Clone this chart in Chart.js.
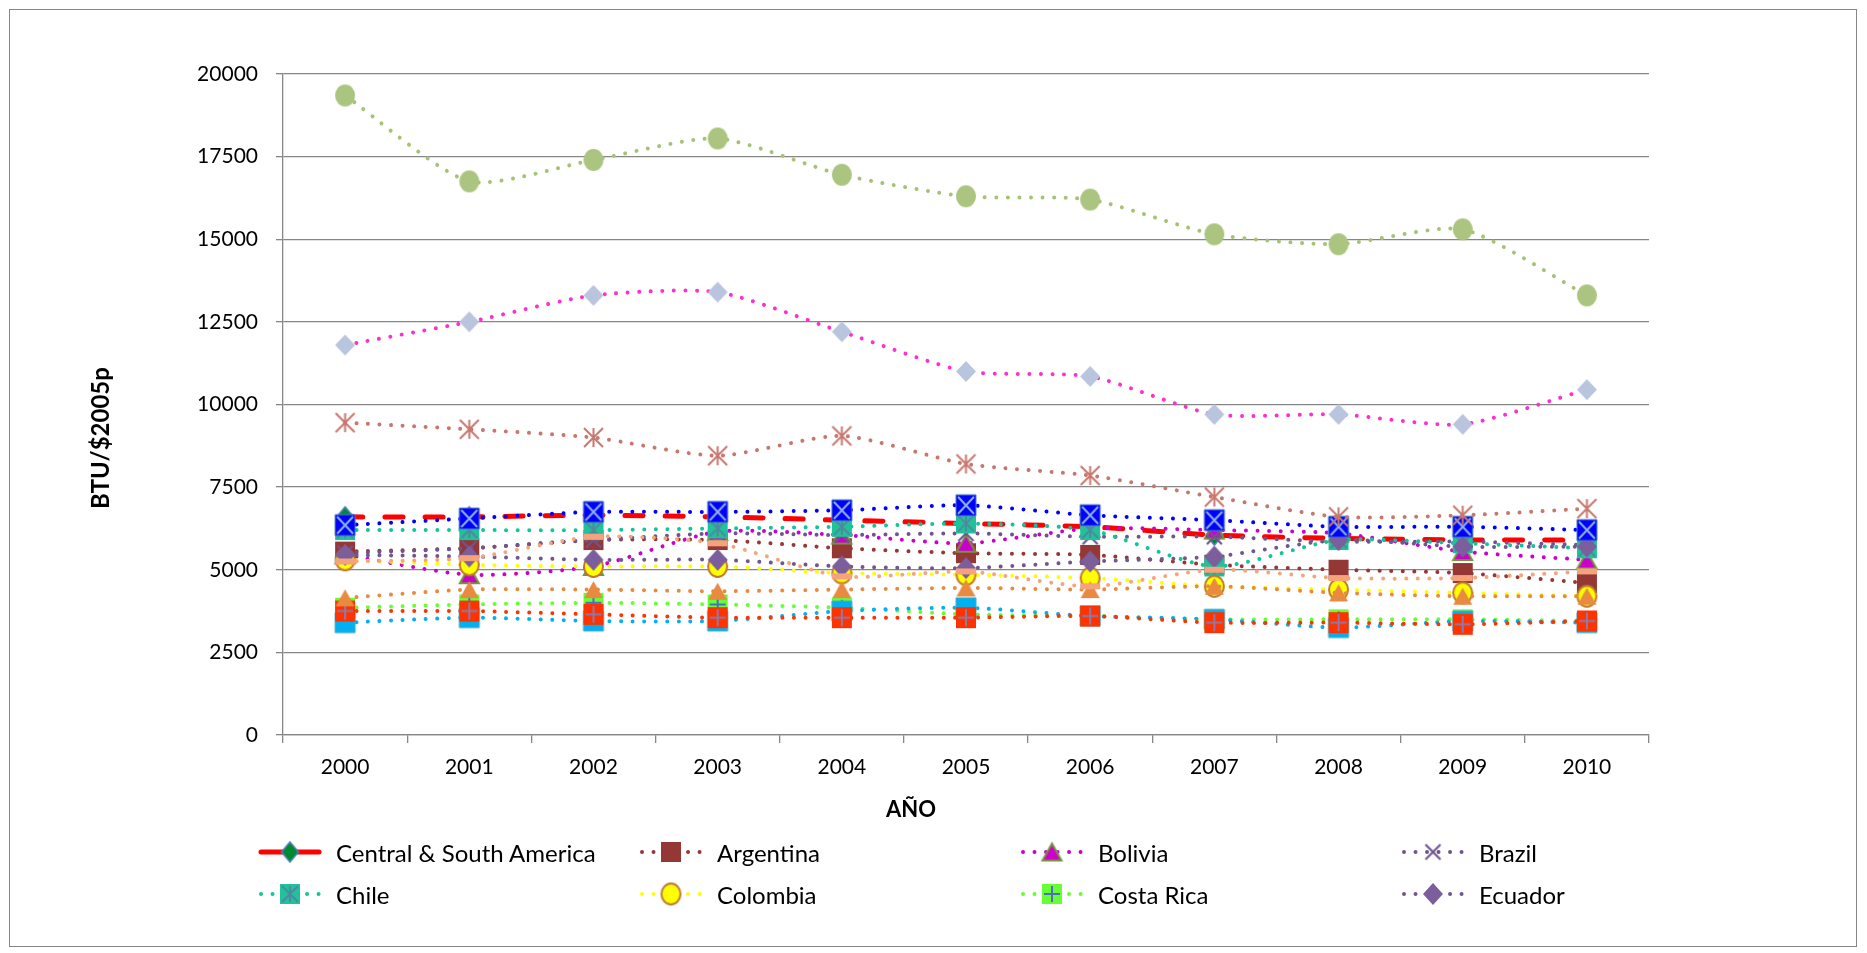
<!DOCTYPE html>
<html><head><meta charset="utf-8">
<script src="https://cdn.jsdelivr.net/npm/chart.js@4.4.1/dist/chart.umd.min.js"></script>
<style>
html,body{margin:0;padding:0;background:#fff;}
#wrap{position:relative;width:1867px;height:953px;overflow:hidden;font-family:Lato, sans-serif;background:#fff;}
#frame{position:absolute;left:9px;top:9px;width:1848px;height:938px;border:1px solid #868686;box-sizing:border-box;}
#c{position:absolute;left:0;top:0;}
.li{position:absolute;height:30px;display:flex;align-items:center;font-size:24px;color:#000;white-space:nowrap;}
.li canvas{margin-right:14px;}
</style></head><body>
<div id="wrap"><div id="frame"></div><canvas id="c" width="1867" height="953"></canvas><div id="legend"></div></div>
<script>
// ---- data ----
const years = ['2000','2001','2002','2003','2004','2005','2006','2007','2008','2009','2010'];
const seriesNames = ['Central & South America','Argentina','Bolivia','Brazil','Chile','Colombia','Costa Rica','Ecuador',
                     'Serie 9','Serie 10','Serie 11','Serie 12','Serie 13','Serie 14','Serie 15','Serie 16'];
const centralSouthAmerica = [6600, 6600, 6650, 6600, 6500, 6400, 6300, 6050, 5950, 5900, 5900];
const argentina  = [5550, 5650, 5900, 5900, 5650, 5500, 5450, 5150, 5000, 4900, 4600];
const bolivia    = [5450, 4850, 5100, 6150, 6050, 5800, 6250, 6200, 6100, 5550, 5300];
const brazil     = [5500, 5650, 5900, 6100, 6050, 6100, 6000, 6000, 5850, 5850, 5750];
const chile      = [6200, 6200, 6200, 6250, 6300, 6400, 6200, 5100, 5900, 5800, 5650];
const colombia   = [5300, 5150, 5100, 5100, 4900, 4850, 4750, 4500, 4400, 4300, 4200];
const costaRica  = [3850, 3950, 4000, 3950, 3850, 3650, 3600, 3500, 3500, 3500, 3450];
const ecuador    = [5450, 5400, 5300, 5300, 5100, 5050, 5250, 5400, 5900, 5700, 5700];
const serie9     = [3400, 3550, 3450, 3450, 3750, 3850, 3600, 3500, 3250, 3450, 3400];
const serie10    = [3750, 3750, 3650, 3550, 3550, 3550, 3600, 3400, 3400, 3350, 3450];
const serie11    = [6350, 6550, 6750, 6750, 6800, 6950, 6650, 6500, 6300, 6300, 6200];
const serie12    = [4150, 4400, 4400, 4350, 4400, 4450, 4400, 4500, 4300, 4200, 4200];
const serie13    = [5250, 5350, 6000, 5800, 4800, 4950, 4500, 5000, 4750, 4750, 4950];
const serie14    = [9450, 9250, 9000, 8450, 9050, 8200, 7850, 7200, 6600, 6650, 6850];
const serie15    = [11800, 12500, 13300, 13400, 12200, 11000, 10850, 9700, 9700, 9400, 10450];
const serie16    = [19350, 16750, 17400, 18050, 16950, 16300, 16200, 15150, 14850, 15300, 13300];
const yMin = 0, yMax = 20000, yStep = 2500;
const yTitle = 'BTU/$2005p', xTitle = 'AÑO';

// ---- marker images ----
function mk(type, fill, stroke, w, h, lw, overlay, ovColor, ovW) {
  const pad = 3;
  const c = document.createElement('canvas');
  c.width = w + pad * 2; c.height = h + pad * 2;
  const g = c.getContext('2d');
  const cx = c.width / 2, cy = c.height / 2;
  if (type) {
    g.beginPath();
    if (type === 'square' || type === 'dash') g.rect(cx - w / 2, cy - h / 2, w, h);
    else if (type === 'diamond') { g.moveTo(cx, cy - h / 2); g.lineTo(cx + w / 2, cy); g.lineTo(cx, cy + h / 2); g.lineTo(cx - w / 2, cy); g.closePath(); }
    else if (type === 'triangle') { g.moveTo(cx, cy - h / 2); g.lineTo(cx + w / 2, cy + h / 2); g.lineTo(cx - w / 2, cy + h / 2); g.closePath(); }
    else if (type === 'circle') g.ellipse(cx, cy, w / 2, h / 2, 0, 0, Math.PI * 2);
    if (fill) { g.fillStyle = fill; g.fill(); }
    if (stroke && lw) { g.strokeStyle = stroke; g.lineWidth = lw; g.stroke(); }
  }
  if (overlay) {
    const inset = type ? 2 : 0;
    const a = w / 2 - inset, b = h / 2 - inset;
    g.strokeStyle = ovColor; g.lineWidth = ovW || 2; g.beginPath();
    if (overlay === 'x' || overlay === 'star') { g.moveTo(cx - a, cy - b); g.lineTo(cx + a, cy + b); g.moveTo(cx + a, cy - b); g.lineTo(cx - a, cy + b); }
    if (overlay === 'plus') { g.moveTo(cx - a, cy); g.lineTo(cx + a, cy); g.moveTo(cx, cy - b); g.lineTo(cx, cy + b); }
    if (overlay === 'star') { g.moveTo(cx, cy - b); g.lineTo(cx, cy + b); }
    g.stroke();
  }
  return c;
}

const DOT = [0.01, 11.5];
function ds(label, data, color, marker, extra) {
  return Object.assign({
    label, data, borderColor: color, backgroundColor: color, borderWidth: 4,
    borderDash: DOT, borderCapStyle: 'round', pointStyle: marker,
    pointRadius: 10, pointHoverRadius: 10, tension: 0.22, fill: false
  }, extra || {});
}

const datasets = [
  ds(seriesNames[0], centralSouthAmerica, '#FF0000', mk('diamond', '#008A2E', '#4F81BD', 17, 20, 1.5), {borderWidth: 5, borderDash: [18, 22]}),
  ds(seriesNames[1], argentina, '#953735', mk('square', '#953735', null, 20, 20, 0)),
  ds(seriesNames[2], bolivia, '#CC00CC', mk('triangle', '#CC00CC', '#77933C', 19, 17, 2)),
  ds(seriesNames[3], brazil, '#6F5490', mk(null, null, null, 15, 15, 0, 'x', '#6F5490', 2.2)),
  ds(seriesNames[4], chile, '#10C597', mk('square', '#20C29B', null, 20, 20, 0, 'star', '#4F8A9C', 2)),
  ds(seriesNames[5], colombia, '#FFFF00', mk('circle', '#FFFF00', '#C0772E', 19, 21, 2)),
  ds(seriesNames[6], costaRica, '#66FF33', mk('square', '#66FF33', null, 20, 20, 0, 'plus', '#4F6EC0', 2)),
  ds(seriesNames[7], ecuador, '#71578F', mk('diamond', '#7B5E9B', null, 20, 22, 0)),
  ds(seriesNames[8], serie9, '#00B0F0', mk('square', '#00B0F0', '#4BACC6', 20, 20, 1)),
  ds(seriesNames[9], serie10, '#FF3300', mk('square', '#FF3300', null, 20, 21, 0, 'plus', '#8C7BA8', 2)),
  ds(seriesNames[10], serie11, '#0000FF', mk('square', '#0000FF', '#4F81BD', 20, 21, 1, 'x', '#8DB3E2', 2)),
  ds(seriesNames[11], serie12, '#E88A40', mk('triangle', '#E88A40', null, 19, 17, 0)),
  ds(seriesNames[12], serie13, '#F6A47A', mk('dash', '#F4A37C', null, 20, 6, 0)),
  ds(seriesNames[13], serie14, '#C8776F', mk(null, null, null, 19, 19, 0, 'star', '#C8776F', 2)),
  ds(seriesNames[14], serie15, '#FF2ECF', mk('diamond', '#B9C5DE', null, 20, 21, 0)),
  ds(seriesNames[15], serie16, '#A6C276', mk('circle', '#ABC580', null, 20, 22, 0))
];
const N = datasets.length;
datasets.forEach((d, i) => { d.order = N - i; });

const axisTitlePlugin = {
  id: 'axisTitles',
  afterDraw(chart) {
    const ctx = chart.ctx;
    ctx.save();
    ctx.fillStyle = '#000';
    ctx.textAlign = 'center'; ctx.textBaseline = 'middle';
    ctx.font = 'bold 22px Lato';
    ctx.fillText(xTitle, 911, 810);
    ctx.font = 'bold 24px Lato';
    ctx.translate(101, 438); ctx.rotate(-Math.PI / 2);
    ctx.fillText(yTitle, 0, 0);
    ctx.restore();
  }
};

const tickFont = {family: 'Lato', size: 21};
const chart = new Chart(document.getElementById('c'), {
  type: 'line',
  data: {labels: years, datasets},
  options: {
    responsive: false, animation: false, devicePixelRatio: 1,
    layout: {padding: {left: 84, top: 74, right: 218, bottom: 118}},
    plugins: {legend: {display: false}, tooltip: {enabled: false}},
    scales: {
      x: {
        type: 'category', offset: true,
        grid: {offset: true, drawOnChartArea: false, drawTicks: true, tickLength: 8, color: '#868686', lineWidth: 1.3},
        border: {color: '#868686', width: 1.3},
        ticks: {font: tickFont, color: '#000', padding: 12, maxRotation: 0, autoSkip: false},
        afterFit(s) { s.height = 100; }
      },
      y: {
        min: yMin, max: yMax,
        grid: {color: '#868686', lineWidth: 1.3, drawTicks: true, tickLength: 7},
        border: {color: '#868686', width: 1.3},
        ticks: {stepSize: yStep, font: tickFont, color: '#000', padding: 18, callback: v => String(v)},
        afterFit(s) { s.width = 199; }
      }
    }
  },
  plugins: [axisTitlePlugin]
});

// ---- HTML legend (first 8 series, 4 columns x 2 rows) ----
const legend = document.getElementById('legend');
chart.data.datasets.slice(0, 8).forEach((d, i) => {
  const col = i % 4, row = Math.floor(i / 4);
  const el = document.createElement('div');
  el.className = 'li';
  el.style.left = (258 + col * 381) + 'px';
  el.style.top = (852 + row * 42 - 15) + 'px';
  const sc = document.createElement('canvas');
  sc.width = 64; sc.height = 26;
  const g = sc.getContext('2d');
  g.strokeStyle = d.borderColor; g.lineWidth = d.borderWidth; g.lineCap = 'round';
  if (i === 0) g.setLineDash([]); else g.setLineDash(d.borderDash);
  g.beginPath(); g.moveTo(3, 13); g.lineTo(61, 13); g.stroke();
  const m = d.pointStyle;
  g.drawImage(m, 32 - m.width / 2, 13 - m.height / 2);
  el.appendChild(sc);
  const t = document.createElement('span');
  t.textContent = d.label;
  el.appendChild(t);
  legend.appendChild(el);
});
</script>
</body></html>
